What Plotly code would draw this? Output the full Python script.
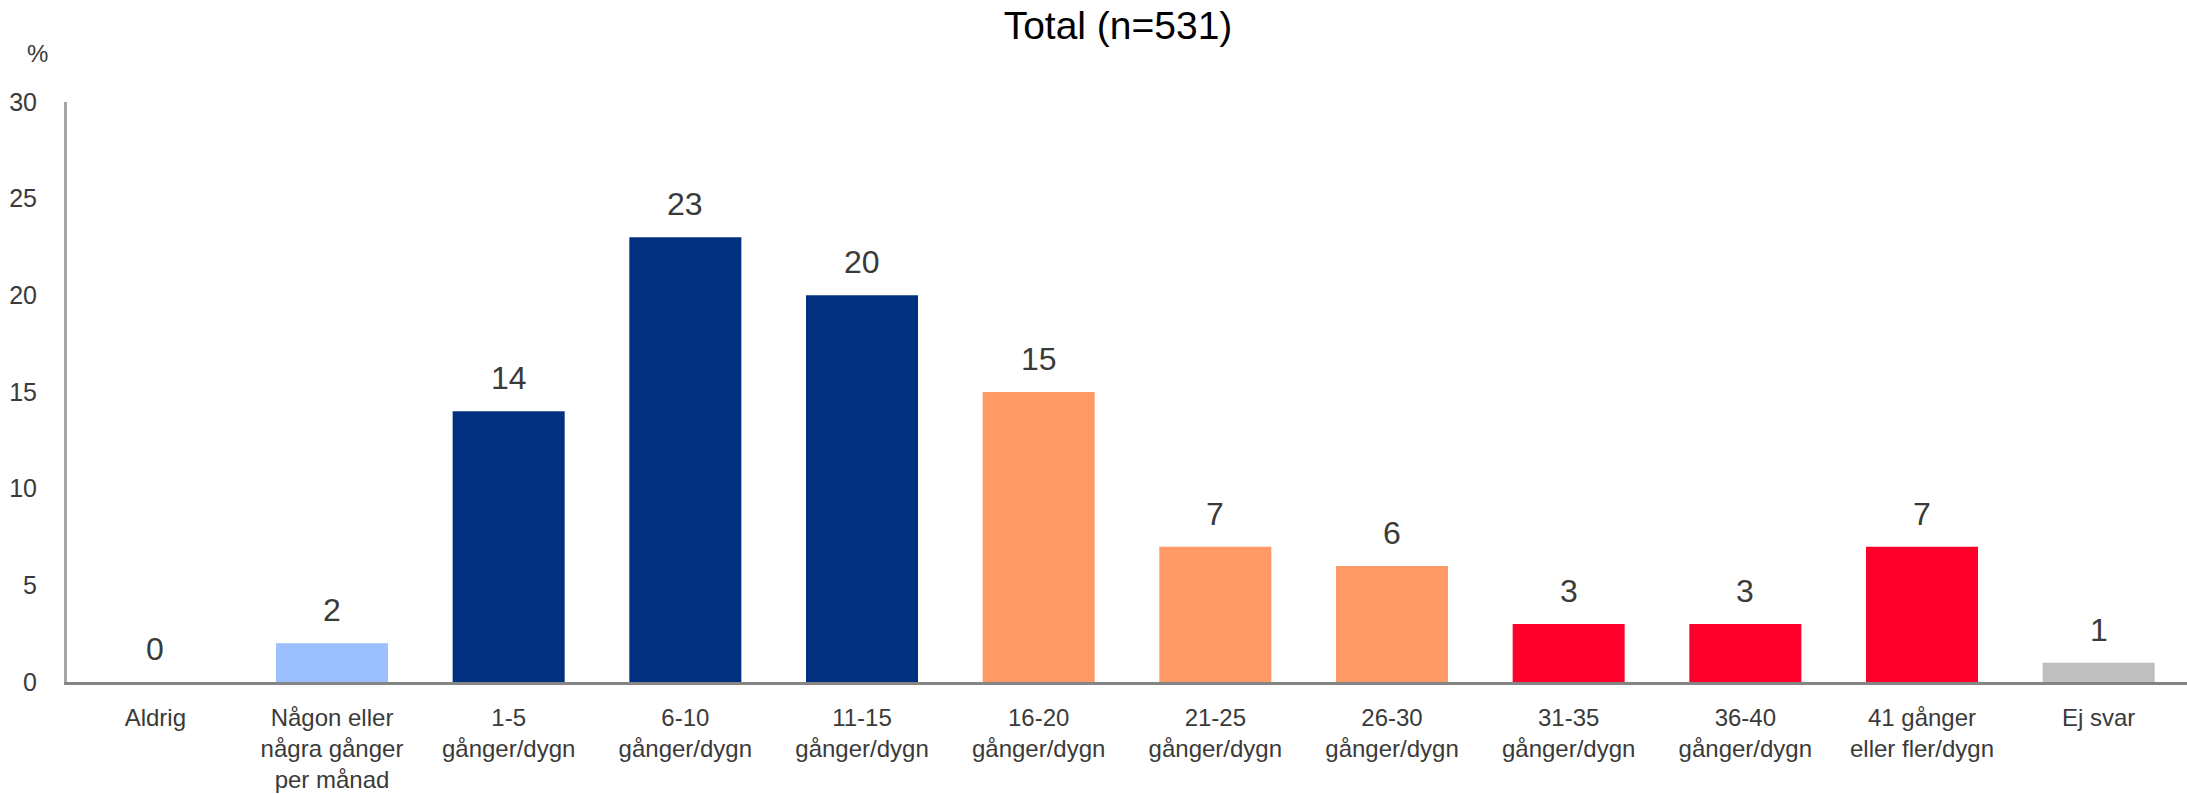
import plotly.graph_objects as go

# Response categories (x axis) and shares in percent
categories = [
    "Aldrig",
    "Någon eller<br>några gånger<br>per månad",
    "1-5<br>gånger/dygn",
    "6-10<br>gånger/dygn",
    "11-15<br>gånger/dygn",
    "16-20<br>gånger/dygn",
    "21-25<br>gånger/dygn",
    "26-30<br>gånger/dygn",
    "31-35<br>gånger/dygn",
    "36-40<br>gånger/dygn",
    "41 gånger<br>eller fler/dygn",
    "Ej svar",
]
values = [0, 2, 14, 23, 20, 15, 7, 6, 3, 3, 7, 1]

# Colour groups: rarely, low, medium, high frequency, no answer
LIGHT_BLUE = "#9BBFFF"
DARK_BLUE = "#00307F"
ORANGE = "#FF9966"
RED = "#FF002B"
GREY = "#BFBFBF"
bar_colors = [LIGHT_BLUE, LIGHT_BLUE, DARK_BLUE, DARK_BLUE, DARK_BLUE,
              ORANGE, ORANGE, ORANGE, RED, RED, RED, GREY]

y_ticks = [0, 5, 10, 15, 20, 25, 30]

FONT = "Liberation Sans, Arial, sans-serif"
TEXT_COLOR = "#3A3A3A"

W, H = 2187, 794
ML, MR, MT, MB = 67, 0, 102, 112
plot_w = W - ML - MR
plot_h = H - MT - MB

fig = go.Figure(
    go.Bar(
        x=categories,
        y=values,
        marker=dict(color=bar_colors, line=dict(width=0)),
        hoverinfo="skip",
    )
)

# Value labels above each bar
for cat, val in zip(categories, values):
    fig.add_annotation(
        x=cat, y=val, xref="x", yref="y",
        text=str(val), showarrow=False,
        yanchor="bottom", yshift=13,
        font=dict(family=FONT, size=32, color=TEXT_COLOR),
    )

# Unit label above the y axis
fig.add_annotation(
    x=(37 - ML) / plot_w, y=(H - MB - 53) / plot_h,
    xref="x domain", yref="y domain", text="%", showarrow=False,
    xanchor="center", yanchor="middle",
    font=dict(family=FONT, size=24, color=TEXT_COLOR),
)

fig.update_layout(
    width=W, height=H,
    margin=dict(l=ML, r=MR, t=MT, b=MB, pad=0),
    paper_bgcolor="white", plot_bgcolor="white",
    bargap=0.366,
    showlegend=False,
    font=dict(family=FONT, color=TEXT_COLOR),
    title=dict(
        text="Total (n=531)",
        x=1118 / W, xanchor="center",
        y=1 - 25 / H, yanchor="middle",
        font=dict(family=FONT, size=39, color="#000000"),
    ),
    xaxis=dict(
        type="category",
        automargin=False,
        showline=True, linecolor="#858585", linewidth=3,
        showgrid=False, zeroline=False,
        ticks="", ticklabelstandoff=12,
        tickfont=dict(family=FONT, size=24, color=TEXT_COLOR),
        tickangle=0,
        fixedrange=True,
    ),
    yaxis=dict(
        range=[0, 30],
        automargin=False,
        tickvals=y_ticks,
        showline=True, linecolor="#A6A6A6", linewidth=3,
        showgrid=False, zeroline=False,
        ticks="", ticklabelstandoff=22,
        tickfont=dict(family=FONT, size=25, color=TEXT_COLOR),
        fixedrange=True,
    ),
)

fig.write_html("out.html")
